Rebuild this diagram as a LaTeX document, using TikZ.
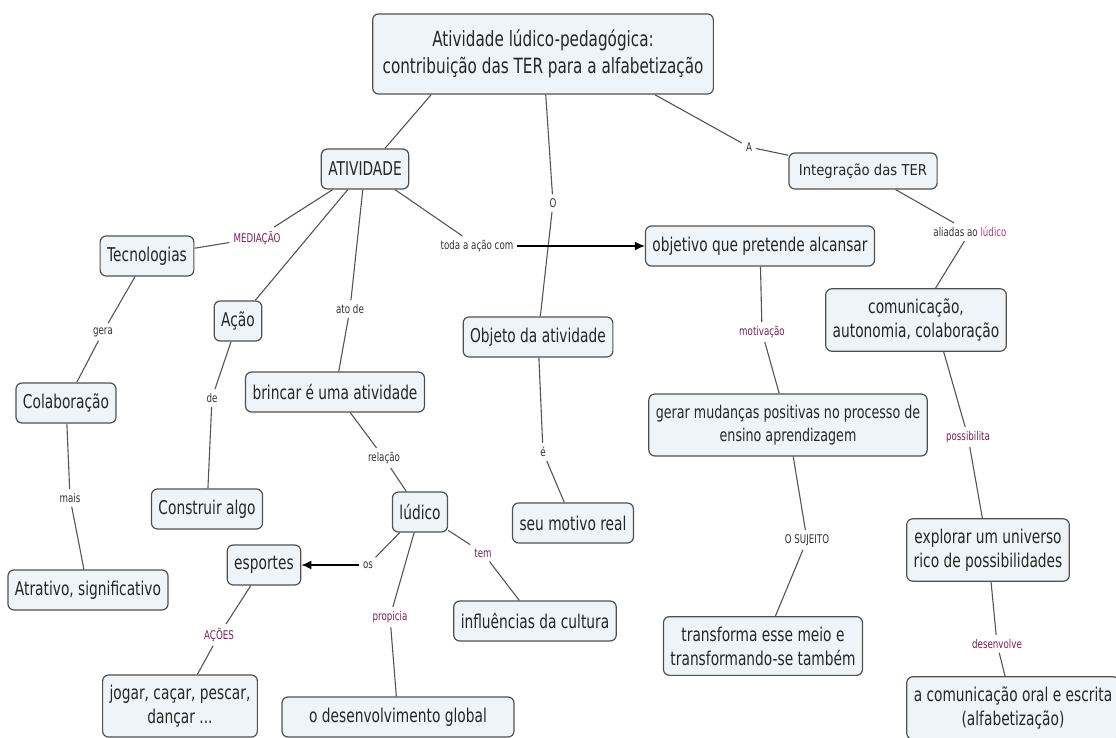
\documentclass[tikz,border=0pt]{standalone}
\usepackage{fontspec}
\setmainfont{DejaVu Sans}[FakeStretch=0.725]
\newfontfamily\widefont{DejaVu Sans}[FakeStretch=0.88]
\usetikzlibrary{arrows.meta, positioning}
\definecolor{boxfill}{HTML}{EEF4F7}
\definecolor{boxline}{HTML}{505050}
\definecolor{linkgray}{HTML}{555555}
\definecolor{lbldark}{HTML}{333333}
\definecolor{lblwine}{HTML}{7A2152}
\definecolor{lblpink}{HTML}{B0407A}

\begin{document}
\begin{tikzpicture}[
  x=1pt, y=-1pt,
  concept/.style={draw=boxline, line width=1.2pt, rounded corners=6pt, fill=boxfill, align=center,
    inner xsep=7pt, inner ysep=10pt, minimum height=40pt, text=black!85, font=\fontsize{19}{24}\selectfont},
  headbox/.style={concept, inner xsep=10pt, inner ysep=16pt, font=\fontsize{21}{27}\selectfont},
  lnk/.style={font=\fontsize{12}{14}\selectfont, text=lbldark, inner sep=4pt},
  lnkw/.style={lnk, text=lblwine},
  link/.style={draw=linkgray, line width=1.1pt},
  arrow/.style={draw=black, line width=1.3pt, -{Latex[length=10pt, width=9pt]}}
]
\fill[white] (0,0) rectangle (1116,738);
\useasboundingbox (0,0) rectangle (1116,738);

% Concepts
\node[headbox] (title) at (543,54) {Atividade lúdico-pedagógica:\\contribuição das TER para a alfabetização};
\node[concept] (ativ) at (365,169) {ATIVIDADE};
\node[concept, minimum height=36pt, inner xsep=10pt, font=\widefont\fontsize{15}{18}\selectfont] (integ) at (863,171) {Integração das TER};
\node[concept] (tec) at (147,256) {Tecnologias};
\node[concept] (objetivo) at (760,246) {objetivo que pretende alcansar};
\node[concept] (acao) at (238,321) {Ação};
\node[concept] (comun) at (916,320) {comunicação,\\autonomia, colaboração};
\node[concept] (objeto) at (538,337) {Objeto da atividade};
\node[concept] (brincar) at (335,392) {brincar é uma atividade};
\node[concept] (colab) at (66,403) {Colaboração};
\node[concept, inner ysep=11pt, font=\fontsize{17.5}{23}\selectfont] (mudancas) at (788,425) {gerar mudanças positivas no processo de\\ensino aprendizagem};
\node[concept] (construir) at (207,509) {Construir algo};
\node[concept] (ludico) at (420,512) {lúdico};
\node[concept] (motivo) at (573,523) {seu motivo real};
\node[concept] (explorar) at (988,550) {explorar um universo\\rico de possibilidades};
\node[concept] (esportes) at (264,565) {esportes};
\node[concept] (atrativo) at (88,590) {Atrativo, significativo};
\node[concept] (cultura) at (535,621) {influências da cultura};
\node[concept] (transforma) at (763,646) {transforma esse meio e\\transformando-se também};
\node[concept] (jogar) at (180,706) {jogar, caçar, pescar,\\dançar ...};
\node[concept, minimum width=232pt] (desenv) at (398,717) {o desenvolvimento global};
\node[concept] (oral) at (1013,708) {a comunicação oral e escrita\\(alfabetização)};

% Linking phrases
\node[lnk] (albl) at (749,147) {A};
\node[lnk] (olbl) at (553,203) {O};
\node[lnk] (aliadas) at (970,232) {aliadas ao {\color{lblpink}lúdico}};
\node[lnkw] (mediacao) at (257,238) {MEDIAÇÃO};
\node[lnk] (toda) at (477,246) {toda a ação com};
\node[lnk] (atode) at (350,309) {ato de};
\node[lnk] (gera) at (103,332) {gera};
\node[lnkw] (motivacao) at (762,332) {motivação};
\node[lnk] (de) at (212,398) {de};
\node[lnkw] (possibilita) at (968,437) {possibilita};
\node[lnk] (elbl) at (543,452) {é};
\node[lnk] (relacao) at (384,458) {relação};
\node[lnk] (mais) at (70,498) {mais};
\node[lnk] (sujeito) at (807,540) {O SUJEITO};
\node[lnkw] (tem) at (483,553) {tem};
\node[lnk] (os) at (368,565) {os};
\node[lnkw] (propicia) at (390,617) {propicia};
\node[lnkw] (acoes) at (219,635) {AÇÕES};
\node[lnkw] (desenvolve) at (997,644) {desenvolve};

% Connectors
\draw[link] (title.200) -- (ativ.46);
\draw[link] (title) -- (olbl);
\draw[link] (olbl) -- (objeto);
\draw[link] (title.-20) -- (albl);
\draw[link] (albl) -- (integ);
\draw[link] (ativ) -- (mediacao);
\draw[link] (mediacao) -- (tec);
\draw[link] (ativ) -- (acao);
\draw[link] (ativ) -- (atode);
\draw[link] (atode) -- (brincar);
\draw[link] (ativ) -- (toda);
\draw[arrow] (toda) -- (objetivo);
\draw[link] (tec) -- (gera);
\draw[link] (gera) -- (colab);
\draw[link] (colab) -- (mais);
\draw[link] (mais) -- (atrativo);
\draw[link] (acao) -- (de);
\draw[link] (de) -- (construir);
\draw[link] (brincar) -- (relacao);
\draw[link] (relacao) -- (ludico);
\draw[link] (ludico) -- (os);
\draw[arrow] (os) -- (esportes);
\draw[link] (ludico) -- (tem);
\draw[link] (tem) -- (cultura);
\draw[link] (ludico) -- (propicia);
\draw[link] (propicia) -- (desenv);
\draw[link] (esportes) -- (acoes);
\draw[link] (acoes) -- (jogar);
\draw[link] (objeto) -- (elbl);
\draw[link] (elbl) -- (motivo);
\draw[link] (objetivo) -- (motivacao);
\draw[link] (motivacao) -- (mudancas);
\draw[link] (mudancas) -- (sujeito);
\draw[link] (sujeito) -- (transforma);
\draw[link] (integ) -- (aliadas);
\draw[link] (aliadas) -- (comun);
\draw[link] (comun.-49) -- (possibilita);
\draw[link] (possibilita) -- (explorar);
\draw[link] (explorar) -- (desenvolve);
\draw[link] (desenvolve) -- (oral);

\end{tikzpicture}
\end{document}
